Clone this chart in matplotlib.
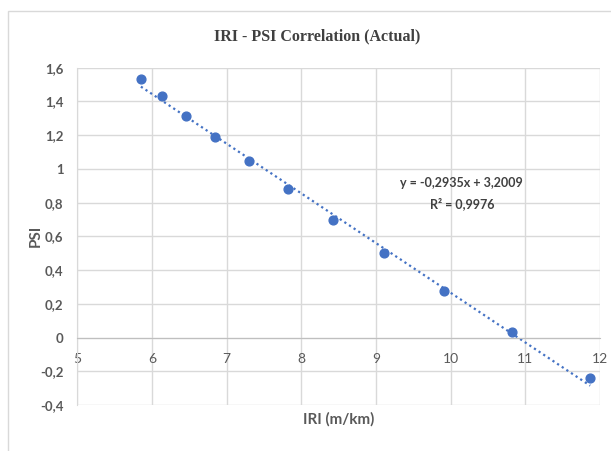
import numpy as np
from matplotlib import pyplot as plt
from matplotlib.patches import Rectangle
from matplotlib.ticker import FuncFormatter

iri = [5.85, 6.13, 6.46, 6.84, 7.30, 7.82, 8.42, 9.11, 9.91, 10.82, 11.87]
psi = [1.53, 1.43, 1.315, 1.187, 1.046, 0.882, 0.696, 0.499, 0.275, 0.032, -0.239]

x_ticks = [5, 6, 7, 8, 9, 10, 11, 12]
y_ticks = [-0.4, -0.2, 0, 0.2, 0.4, 0.6, 0.8, 1.0, 1.2, 1.4, 1.6]

blue = "#4472C4"
grid = "#d9d9d9"
gray = "#595959"


def comma(v, _pos):
    s = f"{v:.1f}".rstrip("0").rstrip(".")
    if s == "-0":
        s = "0"
    return s.replace(".", ",")


fig = plt.figure(figsize=(6.11, 4.51), dpi=100)
fig.patches.append(Rectangle((8 / 611, -0.1), 1.2, 1 - 11 / 451 + 0.1,
                             transform=fig.transFigure, fill=False,
                             edgecolor="#d9d9d9", linewidth=1))

ax = fig.add_axes([0.1268, 0.102, 0.855, 0.748])
ax.set_xlim(5, 12)
ax.set_ylim(-0.4, 1.6)
ax.set_xticks(x_ticks)
ax.set_yticks(y_ticks)
ax.grid(True, color=grid, linewidth=1)
ax.set_axisbelow(True)

for side in ["top", "right"]:
    ax.spines[side].set_visible(False)
ax.spines["left"].set_color(grid)
ax.spines["bottom"].set_position(("data", 0))
ax.spines["bottom"].set_color("#bfbfbf")
ax.tick_params(length=0, colors=gray)
ax.xaxis.set_major_formatter(FuncFormatter(comma))
ax.yaxis.set_major_formatter(FuncFormatter(comma))
for lbl in ax.get_xticklabels():
    lbl.set_fontsize(10)
    lbl.set_family("Lato")
for lbl in ax.get_yticklabels():
    lbl.set_fontsize(9.5)
    lbl.set_family("Lato")
    lbl.set_fontweight("bold")
ax.tick_params(axis="x", pad=11)
ax.tick_params(axis="y", pad=10)

ax.scatter(iri, psi, s=40, color=blue, zorder=3)

slope, intercept = np.polyfit(iri, psi, 1)
xs = np.array([min(iri), max(iri)])
ax.plot(xs, slope * xs + intercept, linestyle=(0, (1, 1.5)), color=blue,
        linewidth=1.6, zorder=2)

ax.text(10.15, 0.856, "y = -0,2935x + 3,2009\nR² = 0,9976", ha="center", va="center",
        fontsize=9, color="#404040", fontweight="bold", family="Lato",
        linespacing=1.75)

ax.set_xlabel("IRI (m/km)", fontsize=11, color=gray, fontweight="bold",
              family="Lato")
ax.set_ylabel("PSI", fontsize=11, color=gray, fontweight="bold",
              family="Lato")
ax.xaxis.set_label_coords(0.5, -0.021)
ax.yaxis.set_label_coords(-0.066, 0.5)

fig.text(317 / 611, 1 - 36 / 451, "IRI - PSI Correlation (Actual)", ha="center",
         va="center", fontsize=11.5, fontweight="bold", color="#404040",
         family="Liberation Serif")

fig.savefig("out.png", dpi=100)
